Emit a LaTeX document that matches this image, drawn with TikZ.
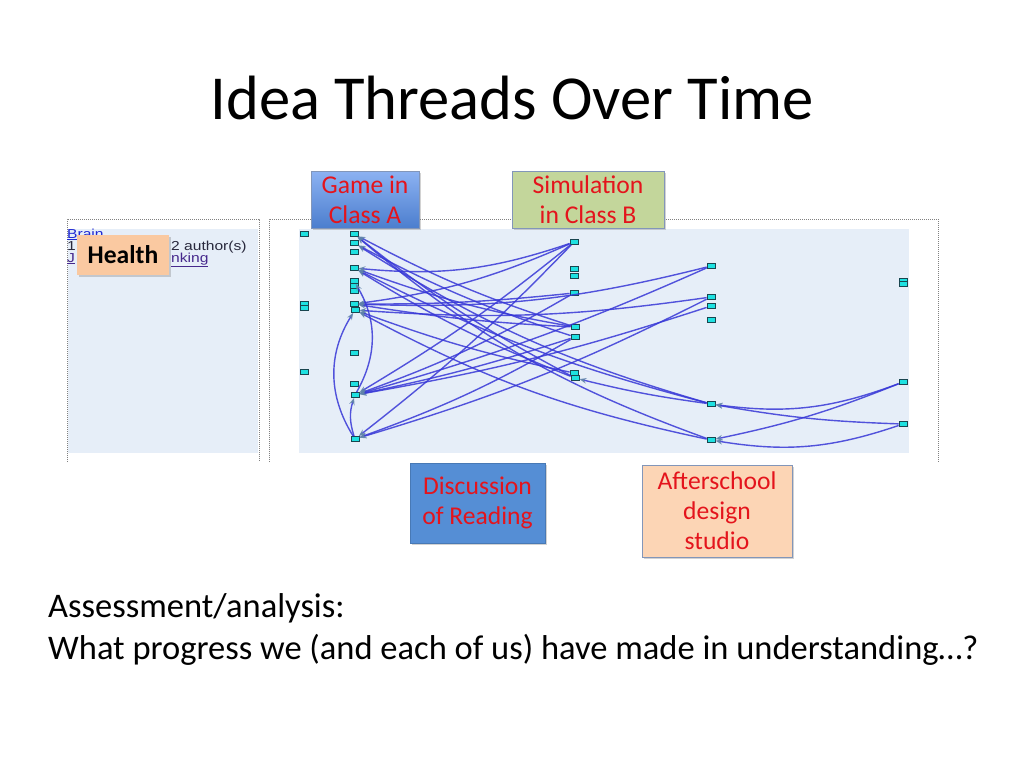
\documentclass[tikz,border=0pt]{standalone}
\usepackage{fontspec}
\setmainfont{Carlito}
\newfontfamily\uifont[FakeStretch=1.2]{Liberation Sans}
\usetikzlibrary{arrows.meta,shadows}
\definecolor{threadblue}{RGB}{55,55,215}
\definecolor{tipgrey}{RGB}{95,130,170}
\definecolor{panelblue}{RGB}{230,238,248}
\definecolor{ideacyan}{RGB}{30,225,225}
\definecolor{ideaedge}{RGB}{25,70,80}
\definecolor{boxred}{RGB}{228,20,28}
\definecolor{gametop}{RGB}{140,178,242}
\definecolor{gamebot}{RGB}{76,126,206}
\definecolor{simgreen}{RGB}{195,214,155}
\definecolor{readblue}{RGB}{85,142,213}
\definecolor{peach}{RGB}{252,213,181}
\definecolor{healthpeach}{RGB}{250,201,161}
\definecolor{boxline}{RGB}{130,150,185}
\tikzset{
  idea/.style={rectangle,draw=ideaedge,fill=ideacyan,line width=0.8pt,minimum width=8pt,minimum height=5pt,inner sep=0pt},
  thread/.style={draw=threadblue,draw opacity=0.85,line width=1.4pt,-{Stealth[length=7pt,width=5.5pt,color=tipgrey]}},
  frameline/.style={gray,line width=0.8pt,dash pattern=on 1pt off 1pt},
  contextbox/.style={rectangle,inner sep=0pt,align=center,text=boxred,font=\fontsize{25.6}{30}\selectfont,drop shadow={opacity=0.35,shadow xshift=2pt,shadow yshift=-2pt}},
}

\begin{document}
\begin{tikzpicture}[x=1pt,y=1pt]
    \useasboundingbox[fill=white] (0,0) rectangle (1024,-768);
    \node[anchor=base] (title) at (512,-119) {\fontsize{62.6}{75}\selectfont Idea Threads Over Time}; %タイトル
    % 画面の枠
    \fill[panelblue] (68,-229) rectangle (258,-453);
    \fill[panelblue] (299,-229) rectangle (909,-453);
    \draw[frameline] (67,-462)--(67,-219)--(259,-219)--(259,-462);
    \draw[frameline] (269,-462)--(269,-219)--(938,-219)--(938,-462);
    \node[anchor=base west,inner sep=0pt,text={rgb,255:red,30;green,40;blue,210}] (brain) at (67,-238) {\uifont\fontsize{13}{13}\selectfont\underline{Brain}};
    \node[anchor=base west,inner sep=0pt,text={rgb,255:red,40;green,40;blue,60}] (year) at (67,-250) {\uifont\fontsize{13}{13}\selectfont 1};
    \node[anchor=base west,inner sep=0pt,text={rgb,255:red,40;green,40;blue,60}] (authors) at (171,-250) {\uifont\fontsize{13}{13}\selectfont 2 author(s)};
    \node[anchor=base west,inner sep=0pt,text={rgb,255:red,70;green,40;blue,140}] (jo) at (67,-262) {\uifont\fontsize{13}{13}\selectfont\underline{J}};
    \node[anchor=base west,inner sep=0pt,text={rgb,255:red,70;green,40;blue,140}] (nking) at (171,-262) {\uifont\fontsize{13}{13}\selectfont\underline{nking}};
    % 糸のノード
    \node[idea] (a1) at (304,-234) {};
    \node[idea] (a2) at (304,-304) {};
    \node[idea] (a2b) at (304,-308) {};
    \node[idea] (a3) at (304,-372) {};
    \node[idea] (b1) at (354,-234) {};
    \node[idea] (b2) at (354,-243) {};
    \node[idea] (b3) at (354,-252) {};
    \node[idea] (b4) at (354,-268) {};
    \node[idea] (b5) at (354,-281) {};
    \node[idea] (b6) at (354,-286) {};
    \node[idea] (b7) at (354,-291) {};
    \node[idea] (b8) at (354,-304) {};
    \node[idea] (b9) at (355,-310) {};
    \node[idea] (b10) at (354,-353) {};
    \node[idea] (b11) at (354,-384) {};
    \node[idea] (b12) at (355,-395) {};
    \node[idea] (b13) at (355,-439) {};
    \node[idea] (c1) at (574,-242) {};
    \node[idea] (c2) at (574,-269) {};
    \node[idea] (c3) at (574,-276) {};
    \node[idea] (c4) at (574,-293) {};
    \node[idea] (c5) at (575,-327) {};
    \node[idea] (c6) at (575,-337) {};
    \node[idea] (c7) at (574,-373) {};
    \node[idea] (c8) at (575,-378) {};
    \node[idea] (d1) at (711,-266) {};
    \node[idea] (d2) at (711,-297) {};
    \node[idea] (d3) at (711,-306) {};
    \node[idea] (d4) at (711,-320) {};
    \node[idea] (d5) at (711,-404) {};
    \node[idea] (d6) at (711,-440) {};
    \node[idea] (e1) at (903,-281) {};
    \node[idea] (e1b) at (903,-284) {};
    \node[idea] (e2) at (903,-382) {};
    \node[idea] (e3) at (903,-424) {};
    % つながり
    \draw[thread] (e2) to[bend left=14] (d5);
    \draw[thread] (e2) to[bend left=5] (d6);
    \draw[thread] (e3) to[bend left=4] (d5);
    \draw[thread] (e3) to[bend left=14] (d6);
    \draw[thread] (d5) to[bend left=3] (c8);
    \draw[thread] (d5) to[bend left=8] (b2);
    \draw[thread] (d5) to[bend left=6] (b4);
    \draw[thread] (d6) to[bend left=10] (b1);
    \draw[thread] (d6) to[bend left=8] (b9);
    \draw[thread] (d1) to[bend left=8] (b8);
    \draw[thread] (d1) to[bend left=4] (b12);
    \draw[thread] (d2) to[bend left=6] (b9);
    \draw[thread] (d2) to[bend left=5] (b13);
    \draw[thread] (d3) to[bend left=4] (b12);
    \draw[thread] (c1) to[bend left=12] (b4);
    \draw[thread] (c1) to[bend left=8] (b8);
    \draw[thread] (c1) to[bend left=4] (b12);
    \draw[thread] (c1) to[bend left=4] (b13);
    \draw[thread] (c4) to[bend left=3] (b8);
    \draw[thread] (c4) to[bend left=5] (b12);
    \draw[thread] (c5) to[bend left=5] (b1);
    \draw[thread] (c5) to[bend left=3] (b8);
    \draw[thread] (c5) to[bend left=5] (b4);
    \draw[thread] (c6) to[bend left=5] (b2);
    \draw[thread] (c6) to[bend left=3] (b12);
    \draw[thread] (c6) to[bend left=5] (b13);
    \draw[thread] (c7) to[bend left=4] (b9);
    \draw[thread] (c8) to[bend left=5] (b1);
    \draw[thread] (c8) to[bend left=5] (b4);
    \draw[thread] (b13) to[bend left=32] (b9);
    \draw[thread] (b12) to[bend right=30] (b5);
    \draw[thread] (b13) to[bend left=18] (b12);
    % 文脈のラベル
    \node[contextbox,draw=boxline,top color=gametop,bottom color=gamebot,minimum width=108pt,minimum height=57pt] (gameA) at (365,-199.5) {Game in\\Class A};
    \node[contextbox,draw=boxline,fill=simgreen,minimum width=152pt,minimum height=57pt] (simB) at (588,-199.5) {Simulation\\in Class B};
    \node[contextbox,draw=readblue!85!black,fill=readblue,minimum width=135pt,minimum height=80pt] (reading) at (477.5,-503) {Discussion\\of Reading};
    \node[contextbox,draw=boxline,fill=peach,minimum width=150pt,minimum height=92pt] (studio) at (717,-511) {Afterschool\\design\\studio};
    \node[contextbox,fill=healthpeach,text=black,font=\fontsize{25.6}{30}\selectfont\bfseries,minimum width=92pt,minimum height=40pt] (health) at (123,-255) {Health};
    \node[anchor=base west,inner sep=0pt] (question) at (48,-617) {\fontsize{34.5}{42}\selectfont Assessment/analysis:};
    \node[anchor=base west,inner sep=0pt] (progress) at (48,-659) {\fontsize{34.5}{42}\selectfont What progress we (and each of us) have made in understanding…?};
\end{tikzpicture}
\end{document}
